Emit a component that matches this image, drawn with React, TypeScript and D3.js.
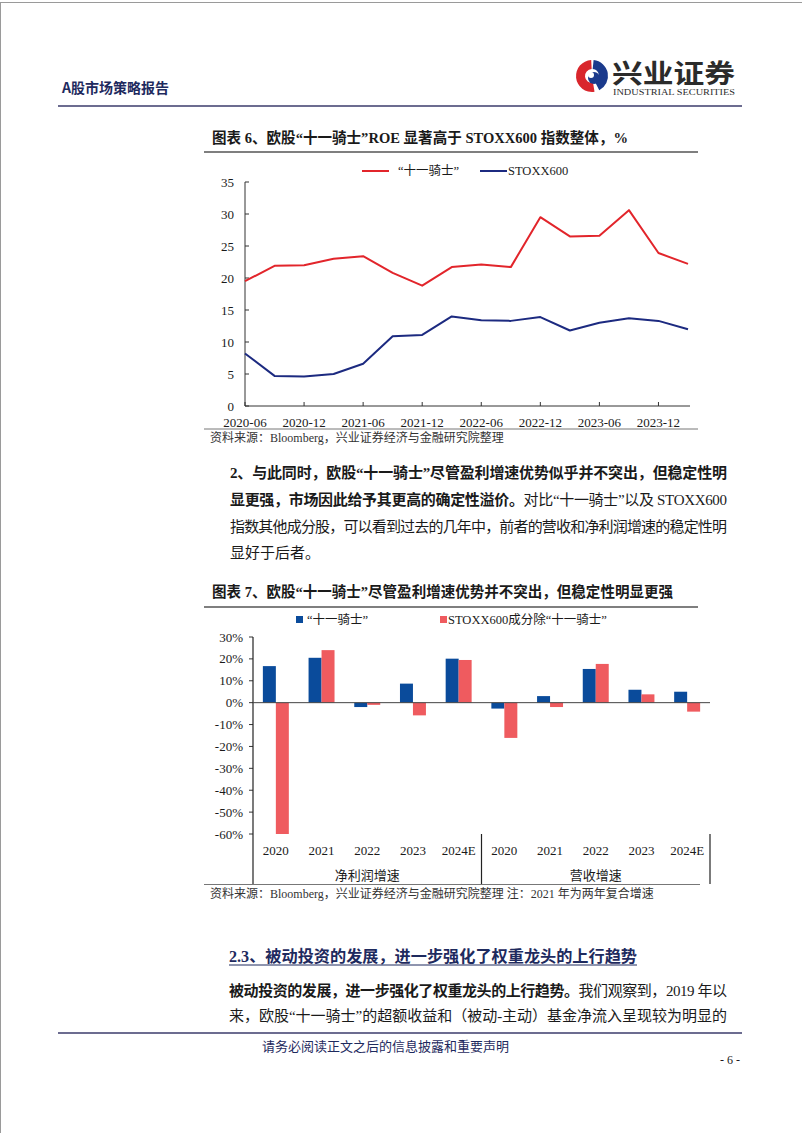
import React, { useEffect } from 'react';
import * as d3 from 'd3';

const roeDates = ['2020-06','2020-09','2020-12','2021-03','2021-06','2021-09','2021-12','2022-03','2022-06','2022-09','2022-12','2023-03','2023-06','2023-09','2023-12','2024-03'];
const knightsRoe = [19.5,21.9,22.0,23.0,23.4,20.8,18.8,21.7,22.1,21.7,29.5,26.5,26.6,30.6,23.9,22.2];
const stoxxRoe = [8.2,4.7,4.6,5.0,6.6,10.9,11.1,14.0,13.4,13.3,13.9,11.8,13.0,13.7,13.3,12.0];
const roeTickLabels = ['2020-06','2020-12','2021-06','2021-12','2022-06','2022-12','2023-06','2023-12'];
const roeYTicks = [0,5,10,15,20,25,30,35];

const growthGroups = ['净利润增速','营收增速'];
const growthYears = ['2020','2021','2022','2023','2024E'];
const knightsGrowth = [16.7,20.5,-2.0,8.7,20.1,-2.7,3.0,15.4,5.9,5.0];
const othersGrowth = [-60,24.0,-1.0,-5.8,19.5,-16.1,-2.0,17.7,3.8,-4.1];
const growthYTicks = [30,20,10,0,-10,-20,-30,-40,-50,-60];

const SERIF = "'Liberation Serif','Noto Sans CJK SC',serif";
const CJK = "'Noto Sans CJK SC','Liberation Serif',sans-serif";
const NAVY = '#1e2a5e';
const TEXT = '#1a1a1a';
const RED_LINE = '#e2252b';
const BLUE_LINE = '#1c2a80';
const BAR_BLUE = '#0a4b9b';
const BAR_RED = '#ef5b5f';

export default function App() {
  useEffect(() => {
    document.body.style.margin = '0';
  }, []);

  // Chart 1 scales
  const x1 = d3.scalePoint<string>().domain(roeDates).range([245, 688]);
  const y1 = d3.scaleLinear().domain([0, 35]).range([406, 182]);
  const line1 = d3.line<number>().x((_, i) => x1(roeDates[i]) as number).y((d) => y1(d));

  // Chart 2 scales
  const cats = growthGroups.flatMap((g) => growthYears.map((y) => g + '|' + y));
  const xb = d3.scaleBand<string>().domain(cats).range([253, 710]).padding(0);
  const xs = d3.scaleBand<string>().domain(['k', 'o']).range([0, xb.bandwidth()]).paddingInner(0).paddingOuter(0.76);
  const y2 = d3.scaleLinear().domain([-60, 30]).range([834, 637]);

  const bar = (v: number, cat: string, s: string, color: string, key: string) => {
    const y0 = y2(0), yv = y2(v);
    return (
      <rect key={key} x={(xb(cat) as number) + (xs(s) as number)} width={xs.bandwidth()}
        y={Math.min(y0, yv)} height={Math.abs(yv - y0)} fill={color} />
    );
  };

  const groupBounds = growthGroups.map((g) => {
    const first = xb(g + '|' + growthYears[0]) as number;
    const last = (xb(g + '|' + growthYears[growthYears.length - 1]) as number) + xb.bandwidth();
    return { g, first, last };
  });

  return (
    <svg width={802} height={1133} style={{ position: 'absolute', left: 0, top: 0, background: '#fff' }}
      fontFamily={SERIF}>
      <rect x={0} y={0} width={802} height={1133} fill="#fff" />
      {/* page border */}
      <line x1={0.5} x2={0.5} y1={2} y2={1133} stroke="#9a9a9a" strokeWidth={1} />
      <line x1={0.5} x2={802} y1={2.5} y2={2.5} stroke="#9a9a9a" strokeWidth={1} />

      {/* Header */}
      <text x={62} y={87} fontSize={14} fontWeight="bold" fill={NAVY} dominantBaseline="central" fontFamily={CJK}>A股市场策略报告</text>
      <g transform="translate(592,76)">
        <path d={d3.arc()({ innerRadius: 7, outerRadius: 16, startAngle: -Math.PI * 1.05, endAngle: -0.05 }) as string} fill="#d9262c" />
        <path d={d3.arc()({ innerRadius: 7, outerRadius: 16, startAngle: 0.1, endAngle: Math.PI * 0.85 }) as string} fill="#1b3a8c" />
        <circle cx={2} cy={2} r={6} fill="#1b3a8c" />
        <circle cx={-1} cy={-1} r={3} fill="#fff" />
      </g>
      <text x={612} y={71} fontSize={26} fontWeight="bold" fill="#2b2b2b" dominantBaseline="central" fontFamily={CJK} textLength={123} lengthAdjust="spacingAndGlyphs">兴业证券</text>
      <text x={613} y={92} fontSize={8} fill="#2b2b2b" dominantBaseline="central" textLength={122} lengthAdjust="spacingAndGlyphs">INDUSTRIAL SECURITIES</text>
      <line x1={58} x2={742} y1={106} y2={106} stroke="#3b3b6b" strokeWidth={1.5} />

      {/* Chart 1 title */}
      <text x={212} y={138} fontSize={15} fontWeight="bold" fill={TEXT} dominantBaseline="central" textLength={416} lengthAdjust="spacingAndGlyphs">
        图表 6、欧股“十一骑士”ROE 显著高于 STOXX600 指数整体，%
      </text>
      <line x1={204} x2={698} y1={152} y2={152} stroke="#555" strokeWidth={1.5} />

      {/* Chart 1 legend */}
      <line x1={362} x2={389} y1={171} y2={171} stroke={RED_LINE} strokeWidth={2} />
      <text x={398} y={171} fontSize={12.5} fill={TEXT} dominantBaseline="central">“十一骑士”</text>
      <line x1={480} x2={507} y1={171} y2={171} stroke={BLUE_LINE} strokeWidth={2} />
      <text x={508} y={171} fontSize={12.5} fill={TEXT} dominantBaseline="central">STOXX600</text>

      {/* Chart 1 axes */}
      {roeYTicks.map((v) => (
        <g key={'y1' + v}>
          <line x1={245} x2={249} y1={y1(v)} y2={y1(v)} stroke="#333" />
          <text x={234} y={y1(v)} fontSize={13} textAnchor="end" dominantBaseline="central" fill={TEXT}>{v}</text>
        </g>
      ))}
      <line x1={245} x2={245} y1={y1(35)} y2={y1(0)} stroke="#333" />
      <line x1={245} x2={690} y1={y1(0)} y2={y1(0)} stroke="#333" />
      {roeTickLabels.map((t) => (
        <g key={'x1' + t}>
          <line x1={x1(t) as number} x2={x1(t) as number} y1={y1(0)} y2={y1(0) - 4} stroke="#333" />
          <text x={x1(t) as number} y={422} fontSize={13} textAnchor="middle" dominantBaseline="central" fill={TEXT}>{t}</text>
        </g>
      ))}
      <path d={line1(knightsRoe) as string} fill="none" stroke={RED_LINE} strokeWidth={2} strokeLinejoin="round" />
      <path d={line1(stoxxRoe) as string} fill="none" stroke={BLUE_LINE} strokeWidth={2} strokeLinejoin="round" />

      <line x1={204} x2={698} y1={429} y2={429} stroke="#777" strokeWidth={1} />
      <text x={210} y={438} fontSize={12} fill="#333" dominantBaseline="central">资料来源：Bloomberg，兴业证券经济与金融研究院整理</text>

      {/* Paragraph 1 */}
      <g fontSize={15} fill={TEXT}>
        <text x={230} y={473} dominantBaseline="central" fontWeight="bold" textLength={497} lengthAdjust="spacing">2、与此同时，欧股“十一骑士”尽管盈利增速优势似乎并不突出，但稳定性明</text>
        <text x={230} y={500} dominantBaseline="central" textLength={497} lengthAdjust="spacing">
          <tspan fontWeight="bold">显更强，市场因此给予其更高的确定性溢价。</tspan>对比“十一骑士”以及 STOXX600
        </text>
        <text x={230} y={527} dominantBaseline="central" textLength={497} lengthAdjust="spacing">指数其他成分股，可以看到过去的几年中，前者的营收和净利润增速的稳定性明</text>
        <text x={230} y={553} dominantBaseline="central">显好于后者。</text>
      </g>

      {/* Chart 2 title */}
      <text x={212} y={592} fontSize={15} fontWeight="bold" fill={TEXT} dominantBaseline="central" textLength={461} lengthAdjust="spacingAndGlyphs">
        图表 7、欧股“十一骑士”尽管盈利增速优势并不突出，但稳定性明显更强
      </text>
      <line x1={204} x2={698} y1={607} y2={607} stroke="#555" strokeWidth={1.5} />

      {/* Chart 2 legend */}
      <rect x={296} y={616} width={7} height={7} fill={BAR_BLUE} />
      <text x={307} y={619.5} fontSize={12.5} fill={TEXT} dominantBaseline="central">“十一骑士”</text>
      <rect x={440} y={616} width={7} height={7} fill={BAR_RED} />
      <text x={448} y={619.5} fontSize={12.5} fill={TEXT} dominantBaseline="central">STOXX600成分除“十一骑士”</text>

      {/* Chart 2 bars */}
      {cats.map((c, i) => bar(knightsGrowth[i], c, 'k', BAR_BLUE, 'k' + c))}
      {cats.map((c, i) => bar(othersGrowth[i], c, 'o', BAR_RED, 'o' + c))}

      {/* Chart 2 axes */}
      {growthYTicks.map((v) => (
        <g key={'y2' + v}>
          <line x1={249} x2={253} y1={y2(v)} y2={y2(v)} stroke="#333" />
          <text x={243} y={y2(v)} fontSize={13} textAnchor="end" dominantBaseline="central" fill={TEXT}>{v}%</text>
        </g>
      ))}
      <line x1={253} x2={253} y1={y2(30)} y2={884} stroke="#222" strokeWidth={1.2} />
      <line x1={253} x2={710} y1={y2(0)} y2={y2(0)} stroke="#444" strokeWidth={1} />
      {cats.map((c) => (
        <text key={'l' + c} x={(xb(c) as number) + xb.bandwidth() / 2} y={850} fontSize={13} textAnchor="middle" dominantBaseline="central" fill={TEXT}>{c.split('|')[1]}</text>
      ))}
      {groupBounds.map(({ g, first, last }) => (
        <g key={g}>
          <line x1={last} x2={last} y1={834} y2={884} stroke="#222" strokeWidth={1.2} />
          <text x={(first + last) / 2} y={875} fontSize={13} textAnchor="middle" dominantBaseline="central" fill={TEXT}>{g}</text>
        </g>
      ))}
      <line x1={204} x2={700} y1={884.5} y2={884.5} stroke="#777" strokeWidth={1} />
      <text x={210} y={894} fontSize={12} fill="#333" dominantBaseline="central">资料来源：Bloomberg，兴业证券经济与金融研究院整理  注：2021 年为两年复合增速</text>

      {/* Section heading */}
      <text x={229} y={956} fontSize={16} fontWeight="bold" fill={NAVY} dominantBaseline="central" textLength={408} lengthAdjust="spacingAndGlyphs">2.3、被动投资的发展，进一步强化了权重龙头的上行趋势</text>
      <line x1={229} x2={637} y1={965} y2={965} stroke={NAVY} strokeWidth={1} />

      {/* Paragraph 2 */}
      <g fontSize={15} fill={TEXT}>
        <text x={229} y={991} dominantBaseline="central" textLength={498} lengthAdjust="spacing">
          <tspan fontWeight="bold">被动投资的发展，进一步强化了权重龙头的上行趋势。</tspan>我们观察到，2019 年以
        </text>
        <text x={229} y={1016} dominantBaseline="central" textLength={498} lengthAdjust="spacing">来，欧股“十一骑士”的超额收益和（被动-主动）基金净流入呈现较为明显的</text>
      </g>

      {/* Footer */}
      <line x1={58} x2={742} y1={1033} y2={1033} stroke="#3b3b6b" strokeWidth={1.5} />
      <text x={262} y={1045} fontSize={13} fill={NAVY} dominantBaseline="central" fontFamily={CJK}>请务必阅读正文之后的信息披露和重要声明</text>
      <text x={740} y={1060} fontSize={12} fill={TEXT} textAnchor="end" dominantBaseline="central">- 6 -</text>
    </svg>
  );
}
